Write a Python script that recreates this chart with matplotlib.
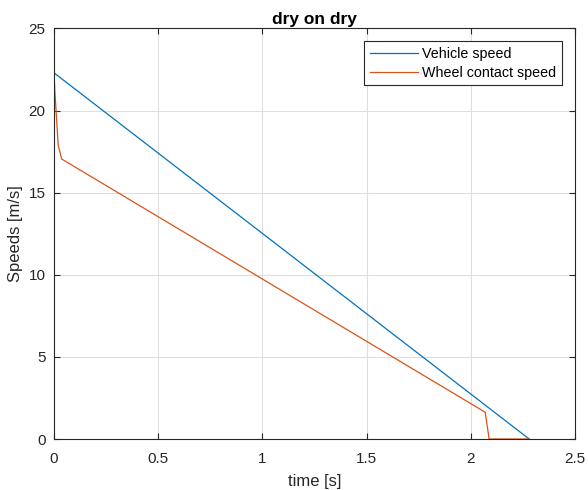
import numpy as np
import matplotlib
matplotlib.use('Agg')
import matplotlib.pyplot as plt

plt.rcParams['font.family'] = ['Liberation Sans', 'DejaVu Sans']

# speeds during the braking manoeuvre
t_vehicle = [0.0, 2.28]
v_vehicle = [22.3, 0.0]

t_wheel = [0.0, 0.004, 0.01, 0.02, 0.037, 2.069, 2.088, 2.28]
v_wheel = [22.3, 21.2, 20.0, 17.9, 17.05, 1.63, 0.0, 0.0]

W, H = 588, 490
fig = plt.figure(figsize=(W / 100, H / 100), dpi=100)
ax = fig.add_axes([54 / W, 51 / H, 521 / W, 410.5 / H])

ax.plot(t_vehicle, v_vehicle, color='#0072BD', linewidth=0.9, label='Vehicle speed')
ax.plot(t_wheel, v_wheel, color='#D95319', linewidth=0.9, label='Wheel contact speed')

ax.set_xlim(0, 2.5)
ax.set_ylim(0, 25)
ax.set_xticks(np.arange(0, 2.51, 0.5))
ax.set_xticklabels(['0', '0.5', '1', '1.5', '2', '2.5'])
ax.set_yticks(np.arange(0, 26, 5))
ax.grid(True, color='#dfdfdf', linewidth=0.8)
ax.set_axisbelow(True)
ax.tick_params(direction='in', length=4, labelsize=11, colors='#262626',
               top=True, right=True)
ax.tick_params(axis='x', pad=9)
ax.tick_params(axis='y', pad=6)
for s in ax.spines.values():
    s.set_color('#262626')
    s.set_linewidth(0.8)

ax.set_xlabel('time [s]', fontsize=12, color='#262626', labelpad=6)
ax.set_ylabel('Speeds [m/s]', fontsize=12, color='#262626', labelpad=4)
ax.set_title('dry on dry', fontsize=12.5, fontweight='bold', pad=3)

leg = ax.legend(loc='upper right', bbox_to_anchor=(562 / W, 1 - 41.5 / H),
                bbox_transform=fig.transFigure, borderaxespad=0,
                fontsize=10.3, fancybox=False, framealpha=1,
                edgecolor='#262626', handlelength=3.35, handletextpad=0.3,
                borderpad=0.4, labelspacing=0.3)
leg.get_frame().set_linewidth(0.8)

fig.savefig('out.png', dpi=100)
